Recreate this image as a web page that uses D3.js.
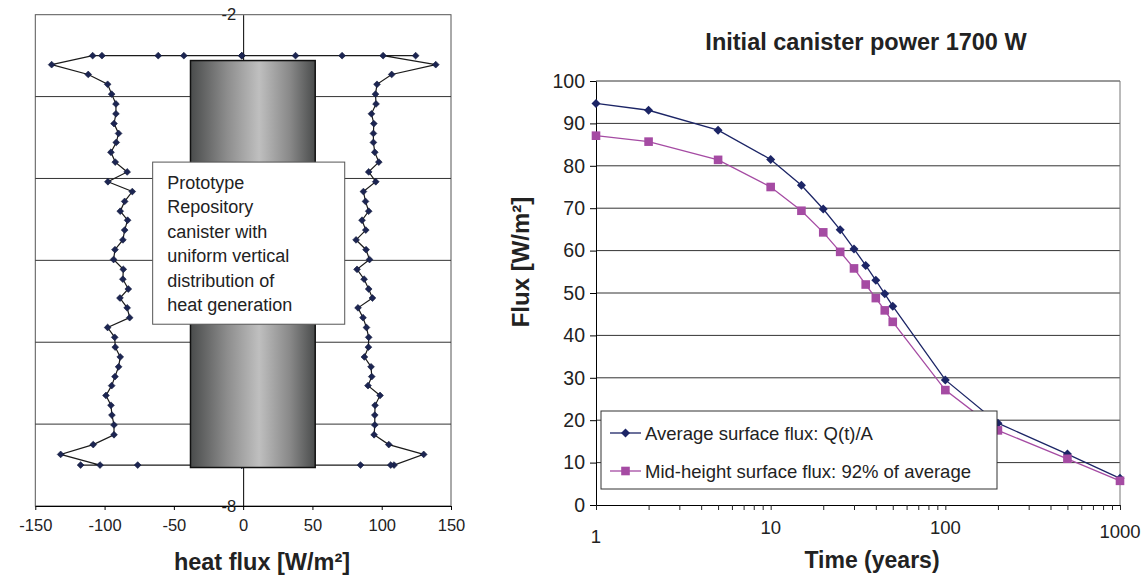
<!DOCTYPE html>
<html lang="en">
<head>
<meta charset="UTF-8">
<title>Canister heat flux</title>
<script src="https://cdn.jsdelivr.net/npm/d3@7/dist/d3.min.js"></script>
<style>
  body { margin: 0; background: #fff; }
  svg { display: block; font-family: "Liberation Sans", Arial, sans-serif; }
</style>
</head>
<body>
<script>
// ---- left chart data: heat flux profile along canister ----
const profileDepth = [-2.61, -2.73, -2.85, -2.97, -3.09, -3.21, -3.33, -3.45, -3.56, -3.68,
  -3.80, -3.92, -4.04, -4.16, -4.28, -4.40, -4.51, -4.63, -4.75, -4.87,
  -4.99, -5.11, -5.23, -5.35, -5.46, -5.58, -5.70, -5.82, -5.94, -6.06,
  -6.18, -6.30, -6.42, -6.53, -6.65, -6.77, -6.89, -7.01, -7.13, -7.25, -7.37];
const leftFlux = [-138.2, -111.8, -97.8, -94.9, -91.8, -91.8, -93.2, -89.9, -91.6, -95.4,
  -92.3, -83.7, -97.6, -80.0, -85.5, -88.7, -83.4, -85.5, -86.8, -92.5,
  -93.5, -86.5, -86.8, -82.9, -88.9, -83.7, -81.9, -97.8, -92.7, -92.3,
  -88.7, -89.9, -92.5, -94.9, -99.0, -95.4, -94.7, -93.2, -93.2, -108.2, -131.7];
const rightFlux = [139.0, 107.2, 96.6, 95.5, 95.9, 92.6, 94.3, 94.0, 94.0, 95.0,
  97.9, 90.6, 95.7, 86.8, 88.3, 90.6, 85.8, 88.5, 81.5, 88.7,
  91.2, 82.2, 87.3, 90.6, 93.3, 82.9, 86.5, 89.0, 90.6, 90.4,
  87.5, 92.3, 92.8, 90.1, 98.8, 95.2, 95.0, 95.0, 94.5, 105.1, 130.3];
const topDepth = -2.5;
const topLeftFlux = [-1, -42.8, -61.3, -101.9, -108.6];
const topRightFlux = [-1, 37.8, 71.4, 124.5, 101.0];
const bottomDepth = -7.5;
const bottomLeftFlux = [-103.3, -117.3, -76.1, -1];
const bottomRightFlux = [108.9, 106.5, 84.7, -1];
const fluxTicks = [-150, -100, -50, 0, 50, 100, 150];
const depthTicks = [-2, -3, -4, -5, -6, -7, -8];
const depthLabels = [-2, -8]; // the others sit behind the canister picture
const canister = [-38, 52, -2.56, -7.53]; // x0, x1, top, bottom
const noteBox = [-65.3, 73.3, -3.8, -5.78];
const noteLines = ["Prototype", "Repository", "canister with", "uniform vertical", "distribution of", "heat generation"];

// ---- right chart data ----
const years = [1, 2, 5, 10, 15, 20, 25, 30, 35, 40, 45, 50, 100, 200, 500, 1000];
const avgFlux = [94.7, 93.1, 88.4, 81.5, 75.4, 69.8, 64.9, 60.4, 56.5, 53.0, 49.8, 46.9, 29.5, 19.3, 12.0, 6.3];
const midFlux = [87.1, 85.7, 81.4, 75.0, 69.4, 64.3, 59.7, 55.8, 52.0, 48.8, 45.9, 43.2, 27.1, 17.6, 10.9, 5.7];
const yTicks = [0, 10, 20, 30, 40, 50, 60, 70, 80, 90, 100];
const xMajor = [1, 10, 100, 1000];
const seriesNames = ["Average surface flux: Q(t)/A", "Mid-height surface flux: 92% of average"];

const W = 1141, H = 575;
const svg = d3.select('body').append('svg').attr('width', W).attr('height', H);
svg.append('rect').attr('width', W).attr('height', H).attr('fill', '#fff');

// ================= left chart =================
const lx = d3.scaleLinear().domain([-150, 150]).range([35.3, 451]);
const ly = d3.scaleLinear().domain([-2, -8]).range([14.7, 506]);
const left = svg.append('g');

// frame
left.append('rect')
  .attr('x', lx(-150)).attr('y', ly(-2))
  .attr('width', lx(150) - lx(-150)).attr('height', ly(-8) - ly(-2))
  .attr('fill', 'none').attr('stroke', '#555');

// grid
left.append('g').selectAll('line')
  .data(depthTicks.slice(1, -1))
  .enter().append('line')
  .attr('x1', lx(-150)).attr('x2', lx(150))
  .attr('y1', d => ly(d)).attr('y2', d => ly(d))
  .attr('stroke', '#333');

// x axis
const lxAxis = left.append('g')
  .attr('transform', `translate(0,${ly(-8)})`)
  .call(d3.axisBottom(lx).tickValues(fluxTicks).tickSize(4).tickSizeOuter(0).tickPadding(9)
    .tickFormat(d => String(d)));
lxAxis.select('.domain').attr('stroke', '#000');
lxAxis.selectAll('text').attr('font-size', 16.5).attr('fill', '#222').attr('font-family', null);

// y axis at x = 0
const lyAxis = left.append('g')
  .attr('transform', `translate(${lx(0)},0)`)
  .call(d3.axisLeft(ly).tickValues(depthLabels).tickSize(0).tickPadding(7)
    .tickFormat(d => String(d)));
lyAxis.select('.domain').attr('stroke', '#000');
lyAxis.selectAll('text').attr('font-size', 16.5).attr('fill', '#222').attr('font-family', null);

// profile series
function sidePoints(topRow, flux, bottomRow) {
  const pts = topRow.map(f => [f, topDepth]);
  flux.forEach((f, i) => pts.push([f, profileDepth[i]]));
  bottomRow.forEach(f => pts.push([f, bottomDepth]));
  return pts;
}
const sides = [sidePoints(topLeftFlux, leftFlux, bottomLeftFlux),
               sidePoints(topRightFlux, rightFlux, bottomRightFlux)];
const lline = d3.line().x(d => lx(d[0])).y(d => ly(d[1]));
sides.forEach(pts => {
  left.append('path').attr('d', lline(pts))
    .attr('fill', 'none').attr('stroke', '#1b1b1b').attr('stroke-width', 1.2);
  left.append('g').selectAll('path')
    .data(pts).enter().append('path')
    .attr('d', 'M0,-3.4L3.4,0L0,3.4L-3.4,0Z')
    .attr('transform', d => `translate(${lx(d[0])},${ly(d[1])})`)
    .attr('fill', '#1c2552').attr('stroke', '#111a3a').attr('stroke-width', 0.6);
});

// canister
const grad = svg.append('defs').append('linearGradient').attr('id', 'can')
  .attr('x1', '0%').attr('x2', '100%');
[[0, '#4a4c4c'], [0.3, '#8e8e8e'], [0.55, '#bfbfbf'], [0.8, '#888'], [1, '#4a4c4c']]
  .forEach(s => grad.append('stop').attr('offset', s[0]).attr('stop-color', s[1]));
left.append('rect')
  .attr('x', lx(canister[0])).attr('y', ly(canister[2]))
  .attr('width', lx(canister[1]) - lx(canister[0]))
  .attr('height', ly(canister[3]) - ly(canister[2]))
  .attr('fill', 'url(#can)').attr('stroke', '#111').attr('stroke-width', 1.5);

// note box
left.append('rect')
  .attr('x', lx(noteBox[0])).attr('y', ly(noteBox[2]))
  .attr('width', lx(noteBox[1]) - lx(noteBox[0]))
  .attr('height', ly(noteBox[3]) - ly(noteBox[2]))
  .attr('fill', '#fff').attr('stroke', '#555');
left.append('g').selectAll('text')
  .data(noteLines).enter().append('text')
  .attr('x', lx(noteBox[0]) + 14.6)
  .attr('y', (d, i) => ly(noteBox[2]) + 27 + i * 24.4)
  .attr('font-size', 18).attr('fill', '#222')
  .text(d => d);

left.append('text')
  .attr('x', 262).attr('y', 570)
  .attr('text-anchor', 'middle').attr('font-size', 23.5).attr('font-weight', 'bold').attr('fill', '#222')
  .text('heat flux [W/m²]');

// ================= right chart =================
const rx = d3.scaleLog().domain([1, 1000]).range([596, 1120]);
const ry = d3.scaleLinear().domain([0, 100]).range([505, 81]);
const right = svg.append('g');

right.append('g').selectAll('line')
  .data(yTicks.slice(1))
  .enter().append('line')
  .attr('x1', rx(1)).attr('x2', rx(1000))
  .attr('y1', d => ry(d)).attr('y2', d => ry(d))
  .attr('stroke', '#333');
right.append('line')
  .attr('x1', rx(1000)).attr('x2', rx(1000)).attr('y1', ry(100)).attr('y2', ry(0))
  .attr('stroke', '#777');

const ryAxis = right.append('g')
  .attr('transform', `translate(${rx(1)},0)`)
  .call(d3.axisLeft(ry).tickValues(yTicks).tickSize(6).tickSizeOuter(0).tickPadding(5));
ryAxis.select('.domain').attr('stroke', '#000');
ryAxis.selectAll('text').attr('font-size', 19.5).attr('fill', '#222').attr('font-family', null);

// minor log ticks
const minor = [];
xMajor.slice(0, -1).forEach(m => { for (let k = 2; k < 10; k++) minor.push(m * k); });
const rxAxis = right.append('g')
  .attr('transform', `translate(0,${ry(0)})`)
  .call(d3.axisBottom(rx).tickValues(minor.concat(xMajor)).tickSize(5).tickSizeOuter(0).tickFormat(() => ''));
rxAxis.select('.domain').attr('stroke', '#000');
rxAxis.selectAll('.tick line').attr('stroke', '#222');
right.append('g').selectAll('text')
  .data(xMajor).enter().append('text')
  .attr('x', d => rx(d))
  .attr('y', (d, i) => i === 0 ? 543 : (i === 3 ? 538 : 534))
  .attr('text-anchor', 'middle').attr('font-size', 18.5).attr('fill', '#222')
  .text(d => d);

const colors = ['#1c2566', '#a54ba3'];
const seriesData = [avgFlux, midFlux];
seriesData.forEach((vals, s) => {
  const pts = years.map((t, i) => [t, vals[i]]);
  right.append('path')
    .attr('d', d3.line().x(d => rx(d[0])).y(d => ry(d[1]))(pts))
    .attr('fill', 'none').attr('stroke', colors[s]).attr('stroke-width', 1.3);
  const g = right.append('g');
  if (s === 0) {
    g.selectAll('path').data(pts).enter().append('path')
      .attr('d', 'M0,-4.5L4.5,0L0,4.5L-4.5,0Z')
      .attr('transform', d => `translate(${rx(d[0])},${ry(d[1])})`)
      .attr('fill', colors[s]);
  } else {
    g.selectAll('rect').data(pts).enter().append('rect')
      .attr('x', d => rx(d[0]) - 4.3).attr('y', d => ry(d[1]) - 4.3)
      .attr('width', 8.6).attr('height', 8.6)
      .attr('fill', colors[s]);
  }
});

// legend
const lg = right.append('g');
lg.append('rect').attr('x', 601).attr('y', 411).attr('width', 396).attr('height', 78)
  .attr('fill', '#fff').attr('stroke', '#333');
seriesNames.forEach((name, i) => {
  const cy = 433 + i * 38;
  lg.append('line').attr('x1', 610).attr('x2', 641).attr('y1', cy).attr('y2', cy)
    .attr('stroke', colors[i]).attr('stroke-width', 1.3);
  if (i === 0) {
    lg.append('path').attr('d', 'M0,-4.5L4.5,0L0,4.5L-4.5,0Z')
      .attr('transform', `translate(625.5,${cy})`).attr('fill', colors[i]);
  } else {
    lg.append('rect').attr('x', 621.2).attr('y', cy - 4.3).attr('width', 8.6).attr('height', 8.6)
      .attr('fill', colors[i]);
  }
  lg.append('text').attr('x', 645).attr('y', cy + 6.5)
    .attr('font-size', 18.5).attr('fill', '#222').text(name);
});

right.append('text')
  .attr('x', 866).attr('y', 50)
  .attr('text-anchor', 'middle').attr('font-size', 23.5).attr('font-weight', 'bold').attr('fill', '#222')
  .text('Initial canister power 1700 W');
right.append('text')
  .attr('x', 872).attr('y', 568)
  .attr('text-anchor', 'middle').attr('font-size', 23).attr('font-weight', 'bold').attr('fill', '#222')
  .text('Time (years)');
right.append('text')
  .attr('transform', 'translate(529,262) rotate(-90)')
  .attr('text-anchor', 'middle').attr('font-size', 24).attr('font-weight', 'bold').attr('fill', '#222')
  .text('Flux [W/m²]');
</script>
</body>
</html>
